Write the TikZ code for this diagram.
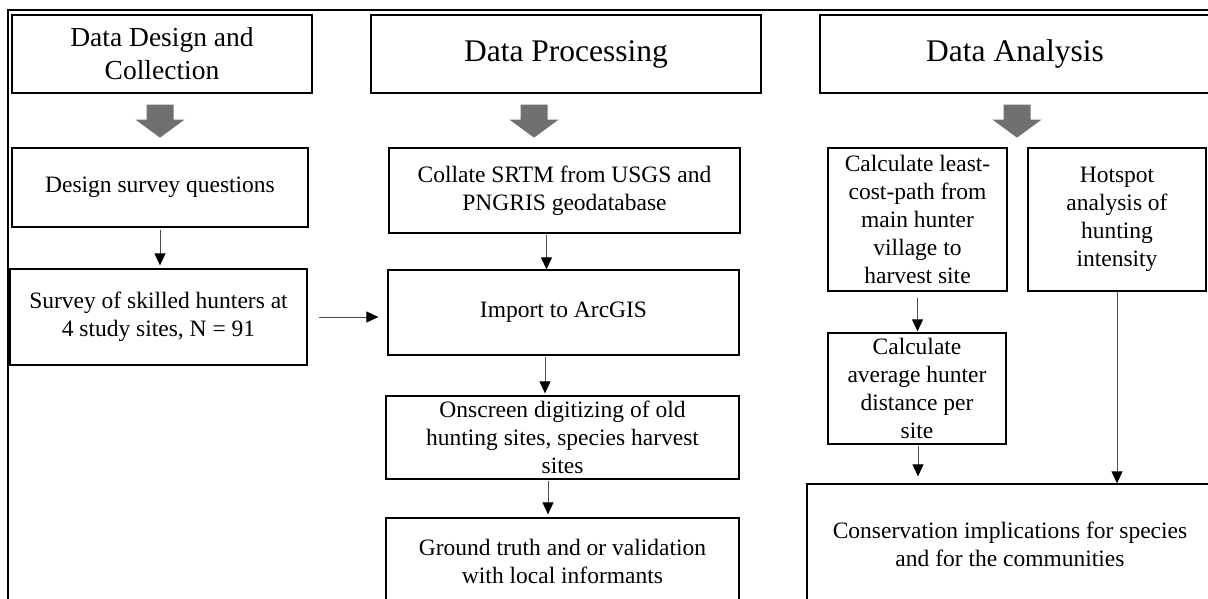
\documentclass[tikz,border=0pt]{standalone}
\usepackage{fontspec}
\setmainfont{Liberation Serif}
\usetikzlibrary{arrows.meta}
\definecolor{arrowgray}{RGB}{112,112,112}

\begin{document}
\begin{tikzpicture}[x=1pt, y=-1pt,
block/.style={rectangle, draw=black, line width=1.3pt, align=center, inner sep=0pt},
block-header/.style={block, font=\fontsize{31.5}{36}\selectfont, minimum width=390pt, minimum height=78pt},
block-body/.style={block, font=\fontsize{23.5}{28}\selectfont},
flow/.style={draw=black!70, line width=1pt, -{Triangle[width=11pt,length=12pt,black]}},
bigdown/.pic={\fill[arrowgray] (-13.5,0) -- (13.5,0) -- (13.5,15) -- (24.5,15) -- (0,33) -- (-24.5,15) -- (-13.5,15) -- cycle;}
]
\useasboundingbox (0,0) rectangle (1208,598);
\clip (0,0) rectangle (1208,598);

% outer frame
\draw[line width=2pt] (8,640) -- (8,10) -- (1240,10);

% column headers
\node [block-header, minimum width=300pt, font=\fontsize{27.5}{33}\selectfont] (design) at (162,54) {Data Design and\\Collection};
\node [block-header] (processing) at (566,54) {Data Processing};
\node [block-header] (analysis) at (1015,54) {Data Analysis};

\pic at ([shift={(-2,11)}]design.south) {bigdown};
\pic at ([shift={(-32,11)}]processing.south) {bigdown};
\pic at ([shift={(2,11)}]analysis.south) {bigdown};

% data design and collection
\node [block-body, minimum width=296pt, minimum height=79pt] (questions) at (160,187.5) {Design survey questions};
\node [block-body, minimum width=297pt, minimum height=96pt] (survey) at (158.5,317) {Survey of skilled hunters at\\4 study sites, N = 91};

% data processing
\node [block-body, minimum width=351pt, minimum height=85pt] (collate) at (564.5,190.5) {Collate SRTM from USGS and\\PNGRIS geodatabase};
\node [block-body, minimum width=351pt, minimum height=85pt] (import) at (563.5,312.5) {Import to ArcGIS};
\node [block-body, minimum width=353pt, minimum height=83pt] (onscreen) at (562.5,437.5) {Onscreen digitizing of old\\hunting sites, species harvest\\sites};
\node [block-body, minimum width=353pt, minimum height=86pt] (truth) at (562.5,561) {Ground truth and or validation\\with local informants};

% data analysis
\node [block-body, minimum width=179pt, minimum height=143pt] (leastcost) at (917.5,219.5) {Calculate least-\\cost-path from\\main hunter\\village to\\harvest site};
\node [block-body, minimum width=178pt, minimum height=111pt] (average) at (917,388.5) {Calculate\\average hunter\\distance per\\site};
\node [block-body, minimum width=178pt, minimum height=143pt] (hotspot) at (1117,219.5) {Hotspot\\analysis of\\hunting\\intensity};
\node [block-body, minimum width=406pt, minimum height=120pt] (conservation) at (1010,544) {Conservation implications for species\\and for the communities};

% connectors
\draw[flow, shorten <=2pt, shorten >=3pt] (questions.south) -- (questions.south |- survey.north);
\draw[flow, shorten <=11pt, shorten >=9pt] (survey.east) -- (survey.east -| import.west);
\draw[flow, shorten <=1pt] ([xshift=-18pt]collate.south) -- ([xshift=-18pt]collate.south |- import.north);
\draw[flow, shorten <=1pt, shorten >=2pt] ([xshift=-18.5pt]import.south) -- ([xshift=-18.5pt]import.south |- onscreen.north);
\draw[flow, shorten <=1pt, shorten >=3pt] ([xshift=-14.5pt]onscreen.south) -- ([xshift=-14.5pt]onscreen.south |- truth.north);
\draw[flow, shorten <=6pt, shorten >=1pt] (leastcost.south) -- (leastcost.south |- average.north);
\draw[flow, shorten <=1pt, shorten >=7pt] ([xshift=1pt]average.south) -- ([xshift=1pt]average.south |- conservation.north);
\draw[flow] (hotspot.south) -- (hotspot.south |- conservation.north);

\end{tikzpicture}
\end{document}
